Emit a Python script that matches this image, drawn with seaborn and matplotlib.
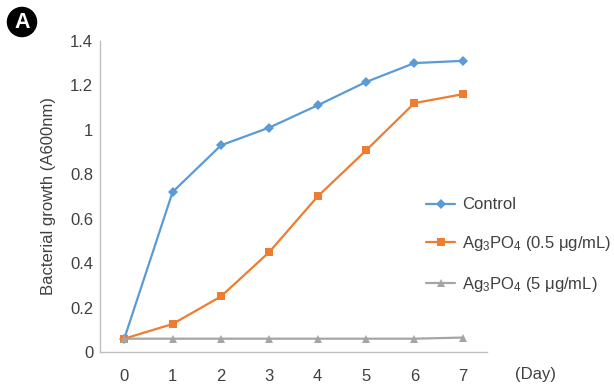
import matplotlib
matplotlib.use("Agg")
import matplotlib.pyplot as plt
import numpy as np
import pandas as pd
import seaborn as sns

days = [0, 1, 2, 3, 4, 5, 6, 7]
control = [0.06, 0.72, 0.93, 1.01, 1.11, 1.215, 1.30, 1.31]
ag_low = [0.06, 0.126, 0.25, 0.45, 0.70, 0.907, 1.12, 1.16]
ag_high = [0.06, 0.06, 0.06, 0.06, 0.06, 0.06, 0.06, 0.065]

labels = [
    "Control",
    "Ag$_3$PO$_4$ (0.5 \u03bcg/mL)",
    "Ag$_3$PO$_4$ (5 \u03bcg/mL)",
]
colors = ["#5B9BD5", "#ED7D31", "#A5A5A5"]
markers = ["D", "s", "^"]
yticks = [0, 0.2, 0.4, 0.6, 0.8, 1, 1.2, 1.4]
ytick_labels = ["0", "0.2", "0.4", "0.6", "0.8", "1", "1.2", "1.4"]

df = pd.concat(
    [
        pd.DataFrame({"day": days, "value": v, "group": lab})
        for v, lab in zip([control, ag_low, ag_high], labels)
    ]
)

sns.set_style("white")
plt.rcParams["font.family"] = ["Liberation Sans", "DejaVu Sans"]
plt.rcParams["mathtext.fontset"] = "custom"
plt.rcParams["mathtext.rm"] = "Liberation Sans"
plt.rcParams["mathtext.it"] = "Liberation Sans:italic"

text_col = "#404040"
fs = 12

fig = plt.figure(figsize=(6.14, 3.87), dpi=100)
ax = fig.add_axes([0.163, 0.0904, 0.630, 0.804])

sns.lineplot(
    data=df, x="day", y="value", hue="group", style="group",
    palette=dict(zip(labels, colors)), markers=dict(zip(labels, markers)),
    dashes=False, linewidth=1.6, markersize=5.5, markeredgewidth=0,
    ax=ax,
)

ax.set_xlim(-0.5, 7.5)
ax.set_ylim(0, 1.4)
ax.set_xticks(days)
ax.set_yticks(yticks)
ax.set_yticklabels(ytick_labels)
ax.tick_params(length=0, labelsize=fs, colors=text_col)
ax.tick_params(axis="y", pad=5)
ax.tick_params(axis="x", pad=12)
ax.set_xlabel("")
ax.set_ylabel("Bacterial growth (A600nm)", fontsize=fs, color=text_col, labelpad=10)

for s in ["top", "right"]:
    ax.spines[s].set_visible(False)
for s in ["left", "bottom"]:
    ax.spines[s].set_color("#BFBFBF")
    ax.spines[s].set_linewidth(1.0)

fig.text(515 / 614, 1 - 375 / 387, "(Day)", fontsize=fs, color=text_col,
         ha="left", va="center")

leg = ax.legend(
    loc="upper left", bbox_to_anchor=(0.805, 0.545), frameon=False,
    fontsize=fs, labelspacing=1.3, handlelength=1.7, handletextpad=0.45,
)
for t in leg.get_texts():
    t.set_color(text_col)

fig.text(22 / 614, 1 - 22 / 387, "A", fontsize=15.5, fontweight="bold", color="white",
         ha="center", va="center",
         bbox=dict(boxstyle="circle,pad=0.22", facecolor="black", edgecolor="none"))

fig.savefig("out.png", dpi=100)
